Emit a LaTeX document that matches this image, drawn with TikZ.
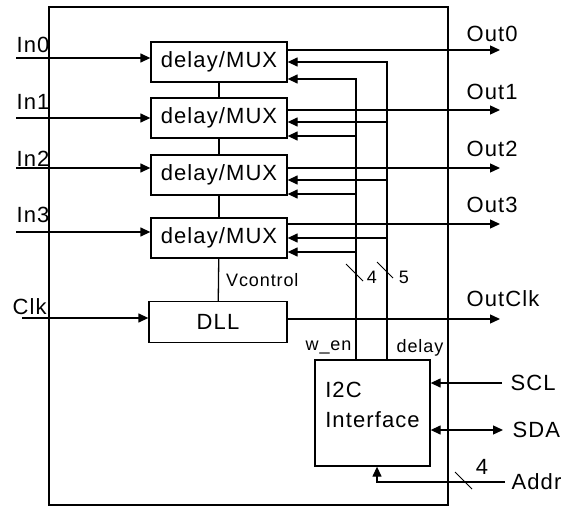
\documentclass[tikz,border=0pt]{standalone}
\usepackage{fontspec}
\setmainfont{Liberation Sans}[LetterSpace=5]
\usetikzlibrary{arrows.meta, positioning}

\begin{document}
\begin{tikzpicture}[x=1pt, y=-1pt, line width=1.3pt,
  blk/.style={draw, minimum width=136pt, minimum height=40pt, inner sep=0pt, font=\fontsize{22}{26}\selectfont},
  sig/.style={inner sep=0pt, font=\fontsize{22}{30}\selectfont},
  tag/.style={inner sep=0pt, font=\fontsize{18}{22}\selectfont},
  slash/.style={line width=0.8pt},
  arr/.style={-{Triangle[length=10pt,width=9pt]}},
  darr/.style={{Triangle[length=10pt,width=9pt]}-{Triangle[length=10pt,width=9pt]}}
]
  \useasboundingbox (0,0) rectangle (565,506);
  \node[draw, minimum width=399pt, minimum height=498pt] (chip) at (248.5,256) {};

  \node[blk] (mux0) at (219,62) {delay/MUX};
  \node[blk] (mux1) at (219,118) {delay/MUX};
  \node[blk] (mux2) at (219,175) {delay/MUX};
  \node[blk] (mux3) at (219,238) {delay/MUX};
  \node[blk, minimum width=138pt, minimum height=41pt] (dll) at (218,322) {DLL};
  \node[draw, minimum width=115pt, minimum height=106pt] (i2c) at (372.5,413) {};
  \node[sig, align=left] (i2ctxt) at ([yshift=8pt]i2c.center) {I2C\\Interface};

  \foreach \a/\b in {mux0/mux1, mux1/mux2, mux2/mux3}
    \draw (\a) -- (\b);
  \draw (mux3) -- node[tag, right=7pt] {Vcontrol} (dll);

  \foreach \i/\y/\g in {0/58/5, 1/118/8, 2/168/1, 3/232/9} {
    \coordinate (in\i) at (16,\y);
    \draw[arr] (in\i) -- (in\i -| mux\i.west);
    \node[sig, anchor=south west] at (16,\y-\g) {In\i};
  }
  \coordinate (clk) at (22,318);
  \draw[arr] (clk) -- (clk -| dll.west);
  \node[sig, anchor=south west] at (12,315) {Clk};

  \foreach \i/\y/\g in {0/50/8, 1/110/10, 2/168/11, 3/224/11} {
    \coordinate (out\i) at (500,\y);
    \draw[arr] (mux\i.east |- out\i) -- (out\i);
    \node[sig, anchor=south west] at (466,\y-\g) {Out\i};
  }
  \coordinate (outclk) at (500,319);
  \draw[arr] (dll.east |- outclk) -- (outclk);
  \node[sig, anchor=south west] at (466,307) {OutClk};

  \foreach \i/\d/\w in {0/62/79, 1/122/136, 2/180/194, 3/238/252} {
    \coordinate (d\i) at (387,\d);
    \coordinate (w\i) at (356,\w);
  }
  \draw[arr] (d0 |- i2c.north) -- (d0) -- (d0 -| mux0.east);
  \draw[arr] (w0 |- i2c.north) -- (w0) -- (w0 -| mux0.east);
  \foreach \i in {1,2,3} {
    \draw[arr] (d\i) -- (d\i -| mux\i.east);
    \draw[arr] (w\i) -- (w\i -| mux\i.east);
  }
  \draw[slash] (346,264) -- (363,281);
  \node[tag] at (372,277) {4};
  \draw[slash] (377,262) -- (393,278);
  \node[tag] at (404,277) {5};
  \node[tag, anchor=base east] at (352,350) {w\_en};
  \node[tag, anchor=base west] at (396,352) {delay};

  \coordinate (scl) at (502,383);
  \draw[arr] (scl) -- (scl -| i2c.east);
  \node[sig, right=8pt of scl] {SCL};
  \coordinate (sda) at (503,430);
  \draw[darr] (i2c.east |- sda) -- (sda);
  \node[sig, right=9pt of sda] {SDA};
  \coordinate (addr) at (505,482);
  \coordinate (aup) at (377,482);
  \draw[arr] (addr) -- (aup) -- (aup |- i2c.south);
  \node[sig, right=6pt of addr] {Addr};
  \draw[slash] (455,472) -- (472,489);
  \node[sig] at (482,467) {4};
\end{tikzpicture}
\end{document}
